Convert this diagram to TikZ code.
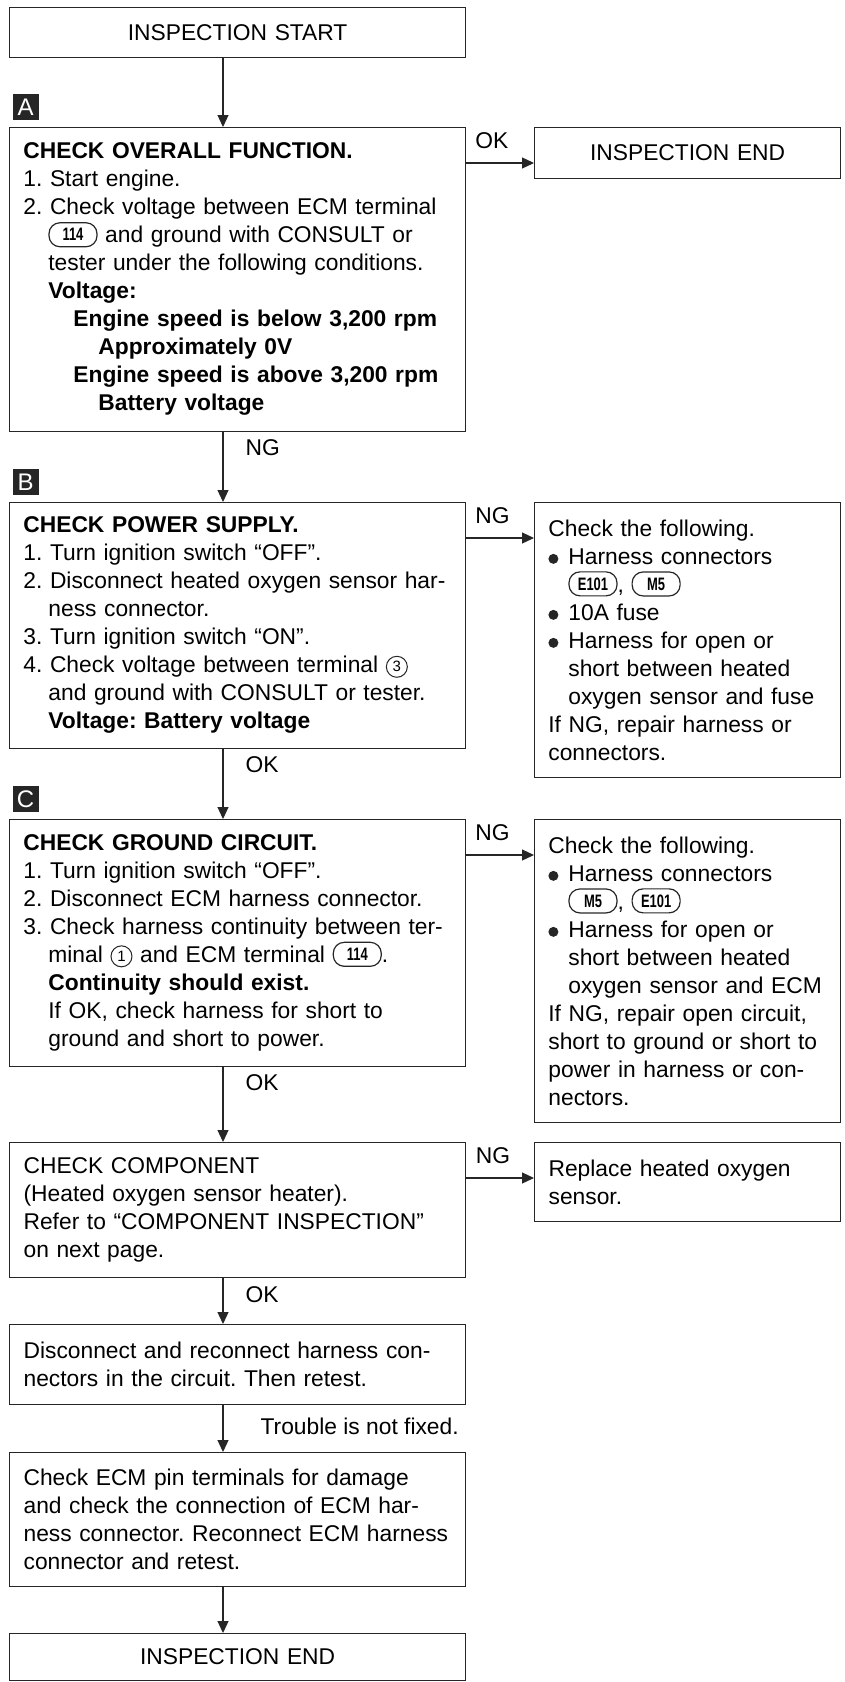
\documentclass[tikz,border=0pt]{standalone}
\usepackage{fontspec}
\setmainfont{Liberation Sans}
\usepackage{graphicx}
\usetikzlibrary{arrows.meta}
\colorlet{ink}{black!85}
\frenchspacing
\hyphenpenalty=10000
\exhyphenpenalty=10000

\tikzset{
  plug/.style={shape=rectangle, draw=ink, line width=0.6pt, rounded corners=5.5pt,
    minimum width=24pt, minimum height=12pt, inner sep=0pt, text width={},
    anchor=base, font=\fontsize{9}{9}\selectfont\bfseries},
  pin/.style={shape=circle, draw=ink, line width=0.5pt, minimum size=10.5pt,
    inner sep=0pt, text width={}, anchor=base, font=\fontsize{7.5}{7.5}\selectfont}
}
\newcommand{\plug}[1]{\tikz[baseline={([yshift=-1pt]p.base)}]\node[plug] (p) {\scalebox{0.72}[1]{#1}};}
\newcommand{\pin}[1]{\tikz[baseline={([yshift=-0.5pt]p.base)}]\node[pin] (p) {#1};}
\newcommand{\bul}{\makebox[10pt][l]{\tikz[baseline]\fill[ink] (2.5pt,2.6pt) circle (2.5pt);}}

\begin{document}
\begin{tikzpicture}[x=0.5pt, y=-0.5pt, line width=0.6pt,
    font=\fontsize{11.4}{14}\selectfont,
    box/.style={draw=ink, anchor=north west, minimum width=228pt, text width=214pt,
      inner xsep=7pt, inner ysep=2pt, align=left},
    side/.style={box, minimum width=153pt, text width=139pt},
    tag/.style={fill=ink, text=white, anchor=south west, minimum width=13pt,
      minimum height=13pt, inner sep=0pt, font=\fontsize{12}{12}\selectfont},
    flow/.style={draw=ink, -{Triangle[length=6pt, width=5.5pt]}},
    lbl/.style={anchor=west, inner sep=0pt, pos=0}]

  \useasboundingbox (0,0) rectangle (845,1682);
  \coordinate (spine) at (223,0);

  \node[box, align=center, minimum height=25pt] (start) at (9,7) {INSPECTION START};

  \node[box, minimum height=152pt] (chkA) at (9,127) {\textbf{CHECK OVERALL FUNCTION.}\\
    1. Start engine.\\
    2. Check voltage between ECM terminal\\
    \hspace*{12.5pt}\plug{114} and ground with CONSULT or\\
    \hspace*{12.5pt}tester under the following conditions.\\
    \hspace*{12.5pt}\textbf{Voltage:}\\
    \hspace*{25pt}\textbf{Engine speed is below 3,200 rpm}\\
    \hspace*{37.5pt}\textbf{Approximately 0V}\\
    \hspace*{25pt}\textbf{Engine speed is above 3,200 rpm}\\
    \hspace*{37.5pt}\textbf{Battery voltage}};
  \node[tag] (tA) at ([xshift=1.5pt, yshift=3pt]chkA.north west) {A};
  \node[side, align=center, minimum height=25.5pt] (endA) at (534,127) {INSPECTION END};

  \node[box, minimum height=123pt] (chkB) at (9,502) {\textbf{CHECK POWER SUPPLY.}\\
    1. Turn ignition switch “OFF”.\\
    2. Disconnect heated oxygen sensor har-\\
    \hspace*{12.5pt}ness connector.\\
    3. Turn ignition switch “ON”.\\
    4. Check voltage between terminal \pin{3}\\
    \hspace*{12.5pt}and ground with CONSULT or tester.\\
    \hspace*{12.5pt}\textbf{Voltage: Battery voltage}};
  \node[tag] (tB) at ([xshift=1.5pt, yshift=3pt]chkB.north west) {B};
  \node[side, minimum height=137.5pt] (fixB) at (534,502) {Check the following.\\
    \bul Harness connectors\\
    \hspace*{10pt}\plug{E101}, \plug{M5}\\
    \bul 10A fuse\\
    \bul Harness for open or\\
    \hspace*{10pt}short between heated\\
    \hspace*{10pt}oxygen sensor and fuse\\
    If NG, repair harness or\\
    connectors.};

  \node[box, minimum height=123.5pt] (chkC) at (9,819) {\textbf{CHECK GROUND CIRCUIT.}\\
    1. Turn ignition switch “OFF”.\\
    2. Disconnect ECM harness connector.\\
    3. Check harness continuity between ter-\\
    \hspace*{12.5pt}minal \pin{1} and ECM terminal \plug{114}.\\
    \hspace*{12.5pt}\textbf{Continuity should exist.}\\
    \hspace*{12.5pt}If OK, check harness for short to\\
    \hspace*{12.5pt}ground and short to power.};
  \node[tag] (tC) at ([xshift=1.5pt, yshift=3pt]chkC.north west) {C};
  \node[side, minimum height=151.5pt] (fixC) at (534,819) {Check the following.\\
    \bul Harness connectors\\
    \hspace*{10pt}\plug{M5}, \plug{E101}\\
    \bul Harness for open or\\
    \hspace*{10pt}short between heated\\
    \hspace*{10pt}oxygen sensor and ECM\\
    If NG, repair open circuit,\\
    short to ground or short to\\
    power in harness or con-\\
    nectors.};

  \node[box, minimum height=67.5pt] (comp) at (9,1142) {CHECK COMPONENT\\
    (Heated oxygen sensor heater).\\
    Refer to “COMPONENT INSPECTION”\\
    on next page.};
  \node[side, minimum height=39.5pt] (swap) at (534,1142) {Replace heated oxygen\\
    sensor.};

  \node[box, minimum height=40pt] (recon) at (9,1324) {Disconnect and reconnect harness con-\\
    nectors in the circuit. Then retest.};
  \node[box, minimum height=67pt] (pins) at (9,1452) {Check ECM pin terminals for damage\\
    and check the connection of ECM har-\\
    ness connector. Reconnect ECM harness\\
    connector and retest.};
  \node[box, align=center, minimum height=23.5pt] (fin) at (9,1633) {INSPECTION END};

  \draw[flow] (start.south -| spine) -- (chkA.north -| spine);
  \draw[flow] (chkA.south -| spine) -- node[lbl, xshift=11pt, yshift=-8pt] {NG} (chkB.north -| spine);
  \draw[flow] (chkB.south -| spine) -- node[lbl, xshift=11pt, yshift=-8pt] {OK} (chkC.north -| spine);
  \draw[flow] (chkC.south -| spine) -- node[lbl, xshift=11pt, yshift=-8pt] {OK} (comp.north -| spine);
  \draw[flow] (comp.south -| spine) -- node[lbl, xshift=11pt, yshift=-8pt] {OK} (recon.north -| spine);
  \draw[flow] (recon.south -| spine) -- node[lbl, xshift=18.5pt, yshift=-10.5pt] {Trouble is not fixed.} (pins.north -| spine);
  \draw[flow] (pins.south -| spine) -- (fin.north -| spine);

  \coordinate (okA) at ([yshift=-18pt]chkA.north east);
  \coordinate (ngB) at ([yshift=-18pt]chkB.north east);
  \coordinate (ngC) at ([yshift=-18pt]chkC.north east);
  \coordinate (ngD) at ([yshift=-18pt]comp.north east);
  \draw[flow] (okA) -- node[lbl, xshift=4.5pt, yshift=11pt] {OK} (okA -| endA.west);
  \draw[flow] (ngB) -- node[lbl, xshift=4.5pt, yshift=11pt] {NG} (ngB -| fixB.west);
  \draw[flow] (ngC) -- node[lbl, xshift=4.5pt, yshift=11pt] {NG} (ngC -| fixC.west);
  \draw[flow] (ngD) -- node[lbl, xshift=4.5pt, yshift=11pt] {NG} (ngD -| swap.west);
\end{tikzpicture}
\end{document}
